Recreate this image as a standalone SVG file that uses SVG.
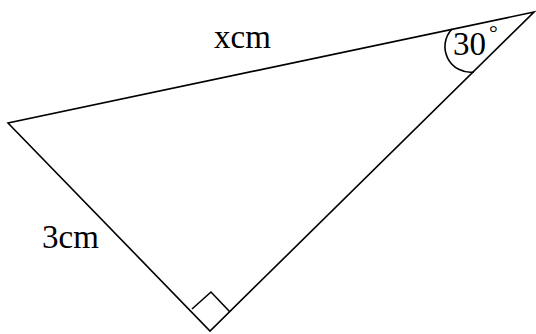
<svg xmlns="http://www.w3.org/2000/svg" width="536" height="334" viewBox="0 0 536 334">
<style>
.ln{fill:none;stroke:#000;stroke-width:1.6;stroke-linejoin:miter}
</style>
<rect width="536" height="334" fill="#fff"/>
<g id="connectors">
<polygon id="triangle" class="ln" points="534,12 8,123 210,331"/>
<polyline id="right-angle" class="ln" points="192,309 211,292 230,312"/>
<path id="angle-arc" class="ln" d="M452,29 A25.6,25.6 0 0 0 474,72"/>
</g>
<g font-family="Liberation Serif, serif" font-size="33" fill="#000">
<g id="label-x"><text x="214" y="48">xcm</text></g>
<g id="label-3"><text x="42" y="248">3cm</text></g>
<g id="label-30"><text x="453" y="55">30<tspan font-size="22" dx="3" dy="-15">°</tspan></text></g>
</g>
</svg>
